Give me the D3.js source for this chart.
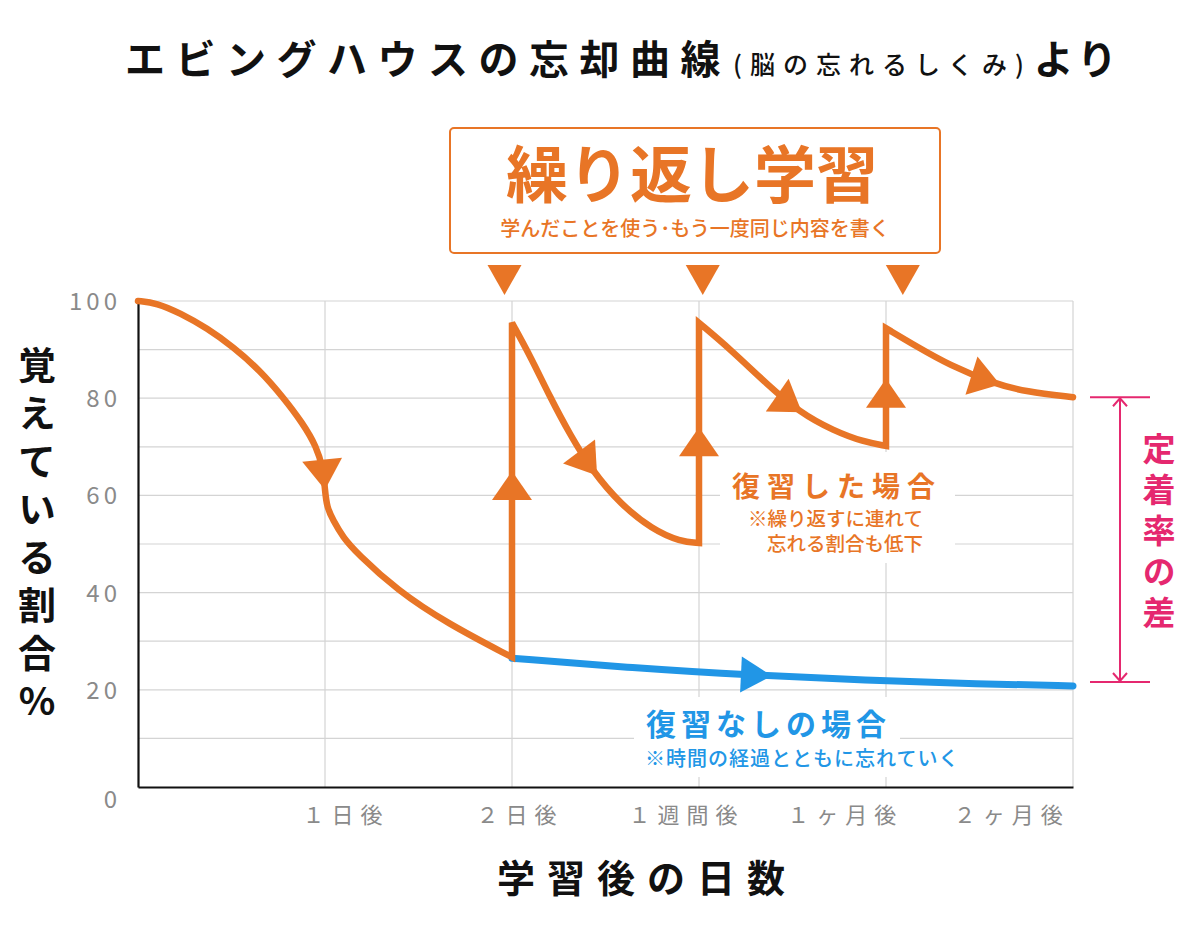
<!DOCTYPE html>
<html>
<head>
<meta charset="utf-8">
<script src="https://cdn.jsdelivr.net/npm/d3@7"></script>
<style>
  body { margin: 0; background: #fff; }
  text { font-family: "Noto Sans CJK JP", "Noto Sans", sans-serif; }
  .vert { writing-mode: vertical-rl; text-orientation: upright; }
</style>
</head>
<body>
<script>
// ---- data ----
const xTickLabels = ["１日後", "２日後", "１週間後", "１ヶ月後", "２ヶ月後"];
const xTickAt = [1.11, 2.04, 2.93, 3.78, 4.67];
const yTicks = [0, 20, 40, 60, 80, 100];

// 復習した場合: first decay, then three review cycles
const forgetFirst = [[0, 100], [0.1, 99.6], [0.225, 97.5], [0.37, 94.4], [0.51, 90.5], [0.65, 85.8],
  [0.776, 80.2], [0.88, 74.9], [0.955, 70], [0.99, 65.5], [1, 61], [1.01, 57.6], [1.043, 54.9], [1.096, 51.4],
  [1.171, 48.1], [1.385, 40.5], [1.652, 33.7], [2, 26.7]];
const review1 = [[2, 95.5], [2.1, 88.5], [2.2, 80.5], [2.31, 72.5], [2.43, 65], [2.58, 58.2],
  [2.75, 53], [2.9, 50.5], [3, 50.2]];
const review2 = [[3, 95.5], [3.17, 90], [3.36, 83], [3.54, 77], [3.72, 73.3], [3.88, 71], [4, 70.2]];
const review3 = [[4, 94.4], [4.17, 90.5], [4.34, 86.8], [4.57, 83.1], [4.75, 81.3], [5, 80.2]];

// 復習なしの場合
const noReview = [[2, 26.5], [2.65, 24.5], [3.27, 23], [3.89, 22], [4.5, 21.2], [5, 20.8]];

const reviewAt = [1.96, 3.02, 4.09];          // top ▼ marks
const curveArrowX = [1, 2.455, 3.55, 4.61];   // arrows riding the orange line
const riseArrows = [[2, 65], [3, 74], [4, 84]];
const blueArrowX = [3.39];
const gapRange = [80.2, 21.6];

const orange = "#E87526", blue = "#2196E6", pink = "#E5286F", grey = "#8a8a8a";

// ---- svg ----
const width = 1200, height = 938;
const svg = d3.select("body").append("svg")
    .attr("width", width)
    .attr("height", height);

const x = d3.scaleLinear().domain([0, 5]).range([138, 1073]);
const y = d3.scaleLinear().domain([0, 100]).range([787, 301]);

// title
const title = svg.append("text")
    .attr("x", 125).attr("y", 74)
    .attr("fill", "#111")
    .attr("font-weight", 700);
title.append("tspan").attr("font-size", 40).attr("letter-spacing", 10.5).text("エビングハウスの忘却曲線");
title.append("tspan").attr("font-size", 25).attr("letter-spacing", 8).attr("font-weight", 500).attr("dx", 2).text("(脳の忘れるしくみ)");
title.append("tspan").attr("font-size", 40).attr("letter-spacing", 4).attr("dx", 2).text("より");

// grid
svg.append("g").selectAll("line")
    .data(d3.range(10, 101, 10))
    .join("line")
    .attr("x1", x(0)).attr("x2", x(5))
    .attr("y1", d => y(d)).attr("y2", d => y(d))
    .attr("stroke", "#d4d4d4").attr("stroke-width", 1.2);
svg.append("g").selectAll("line")
    .data([1, 2, 3, 4, 5])
    .join("line")
    .attr("x1", d => x(d)).attr("x2", d => x(d))
    .attr("y1", y(0)).attr("y2", y(100))
    .attr("stroke", "#d4d4d4").attr("stroke-width", 1.2);

// axes
const yAxis = svg.append("g")
    .attr("transform", `translate(${x(0)},0)`)
    .call(d3.axisLeft(y).tickValues(yTicks).tickSize(0).tickSizeOuter(0).tickPadding(17));
yAxis.select(".domain").attr("stroke", "#111").attr("stroke-width", 2.2);
yAxis.selectAll("text")
    .attr("font-size", 24).attr("fill", grey).attr("letter-spacing", 4)
    .attr("font-family", "'Noto Sans CJK JP', sans-serif")
    .attr("dy", d => d === 0 ? "0.85em" : "0.35em");

const xAxis = svg.append("g")
    .attr("transform", `translate(0,${y(0)})`)
    .call(d3.axisBottom(x).tickValues(xTickAt).tickFormat((d, i) => xTickLabels[i])
      .tickSize(0).tickSizeOuter(0).tickPadding(20));
xAxis.select(".domain").attr("stroke", "#111").attr("stroke-width", 2.2);
xAxis.selectAll("text")
    .attr("font-size", 22).attr("fill", grey).attr("letter-spacing", 7)
    .attr("font-family", "'Noto Sans CJK JP', sans-serif");

// axis titles
svg.append("text")
    .attr("class", "vert")
    .attr("x", 37).attr("y", 346)
    .attr("font-size", 38).attr("font-weight", 700).attr("letter-spacing", 10).attr("fill", "#111")
    .text("覚えている割合%");

svg.append("text")
    .attr("x", 497).attr("y", 892)
    .attr("font-size", 38).attr("font-weight", 700).attr("letter-spacing", 12).attr("fill", "#111")
    .text("学習後の日数");

// white backing behind the labels
svg.append("rect").attr("x", 720).attr("y", 452).attr("width", 235).attr("height", 111).attr("fill", "#fff");
svg.append("rect").attr("x", 634).attr("y", 697).attr("width", 266).attr("height", 80).attr("fill", "#fff");

// lines
const line = d3.line().x(d => x(d[0])).y(d => y(d[1])).curve(d3.curveBasis);
const reviewedD = [forgetFirst, review1, review2, review3]
    .map((s, i) => i ? line(s).replace(/^M/, "L") : line(s))
    .join("");

const bluePath = svg.append("path")
    .attr("d", line(noReview))
    .attr("fill", "none").attr("stroke", blue).attr("stroke-width", 7).attr("stroke-linecap", "round");

const orangePath = svg.append("path")
    .attr("d", reviewedD)
    .attr("fill", "none").attr("stroke", orange).attr("stroke-width", 6.5)
    .attr("stroke-linecap", "round").attr("stroke-linejoin", "miter");

// arrowheads
function pointAtX(node, px) {
  let lo = 0, hi = node.getTotalLength();
  for (let k = 0; k < 40; k++) {
    const mid = (lo + hi) / 2;
    if (node.getPointAtLength(mid).x < px) lo = mid; else hi = mid;
  }
  const p = node.getPointAtLength(hi), q = node.getPointAtLength(Math.max(0, hi - 3));
  return { x: p.x, y: p.y, a: Math.atan2(p.y - q.y, p.x - q.x) * 180 / Math.PI };
}
const tri = (len, hw) => `M0,0L${-len},${-hw}L${-len},${hw}Z`;

svg.append("g").selectAll("path")
    .data(curveArrowX.map(v => pointAtX(orangePath.node(), x(v))))
    .join("path")
    .attr("d", tri(30, 20))
    .attr("transform", d => `translate(${d.x},${d.y}) rotate(${d.a})`)
    .attr("fill", orange);

svg.append("g").selectAll("path")
    .data(riseArrows)
    .join("path")
    .attr("d", tri(29, 20))
    .attr("transform", d => `translate(${x(d[0])},${y(d[1])}) rotate(-90)`)
    .attr("fill", orange);

svg.append("g").selectAll("path")
    .data(blueArrowX.map(v => pointAtX(bluePath.node(), x(v))))
    .join("path")
    .attr("d", tri(31, 18))
    .attr("transform", d => `translate(${d.x},${d.y}) rotate(${d.a})`)
    .attr("fill", blue);

// review box
svg.append("rect")
    .attr("x", 450).attr("y", 128).attr("width", 490).attr("height", 125).attr("rx", 4)
    .attr("fill", "#fff").attr("stroke", orange).attr("stroke-width", 2);
svg.append("text")
    .attr("x", 692).attr("y", 198).attr("text-anchor", "middle")
    .attr("font-size", 62).attr("font-weight", 700).attr("fill", orange)
    .text("繰り返し学習");
svg.append("text")
    .attr("x", 695).attr("y", 236).attr("text-anchor", "middle")
    .attr("font-size", 20).attr("font-weight", 500).attr("fill", orange)
    .text("学んだことを使う･もう一度同じ内容を書く");

svg.append("g").selectAll("path")
    .data(reviewAt)
    .join("path")
    .attr("d", tri(30, 17))
    .attr("transform", d => `translate(${x(d)},295) rotate(90)`)
    .attr("fill", orange);

// labels
svg.append("text")
    .attr("x", 732).attr("y", 497)
    .attr("font-size", 28).attr("font-weight", 700).attr("letter-spacing", 7).attr("fill", orange)
    .text("復習した場合");
svg.append("text")
    .attr("text-anchor", "end")
    .attr("font-size", 19.5).attr("font-weight", 500).attr("fill", orange)
  .selectAll("tspan")
    .data(["※繰り返すに連れて", "忘れる割合も低下"])
    .join("tspan")
    .attr("x", 923).attr("y", (d, i) => 526 + i * 25)
    .text(d => d);

svg.append("text")
    .attr("x", 646).attr("y", 735)
    .attr("font-size", 30).attr("font-weight", 700).attr("letter-spacing", 5).attr("fill", blue)
    .text("復習なしの場合");
svg.append("text")
    .attr("x", 645).attr("y", 766)
    .attr("font-size", 20).attr("font-weight", 500).attr("letter-spacing", 1).attr("fill", blue)
    .text("※時間の経過とともに忘れていく");

// gap annotation
const gap = svg.append("g").attr("stroke", pink).attr("stroke-width", 2).attr("fill", "none");
gap.selectAll("line.h")
    .data(gapRange)
    .join("line")
    .attr("class", "h")
    .attr("x1", 1090).attr("x2", 1150)
    .attr("y1", d => y(d)).attr("y2", d => y(d));
gap.append("line")
    .attr("x1", 1120).attr("x2", 1120)
    .attr("y1", y(gapRange[0]) + 1).attr("y2", y(gapRange[1]) - 1);
gap.selectAll("path")
    .data(gapRange)
    .join("path")
    .attr("d", (d, i) => {
      const py = y(d) + (i ? -1 : 1), s = i ? -1 : 1;
      return `M1113,${py + 8 * s}L1120,${py}L1127,${py + 8 * s}`;
    });

svg.append("text")
    .attr("class", "vert")
    .attr("x", 1159).attr("y", 432)
    .attr("font-size", 33).attr("font-weight", 700).attr("letter-spacing", 8).attr("fill", pink)
    .text("定着率の差");
</script>
</body>
</html>
